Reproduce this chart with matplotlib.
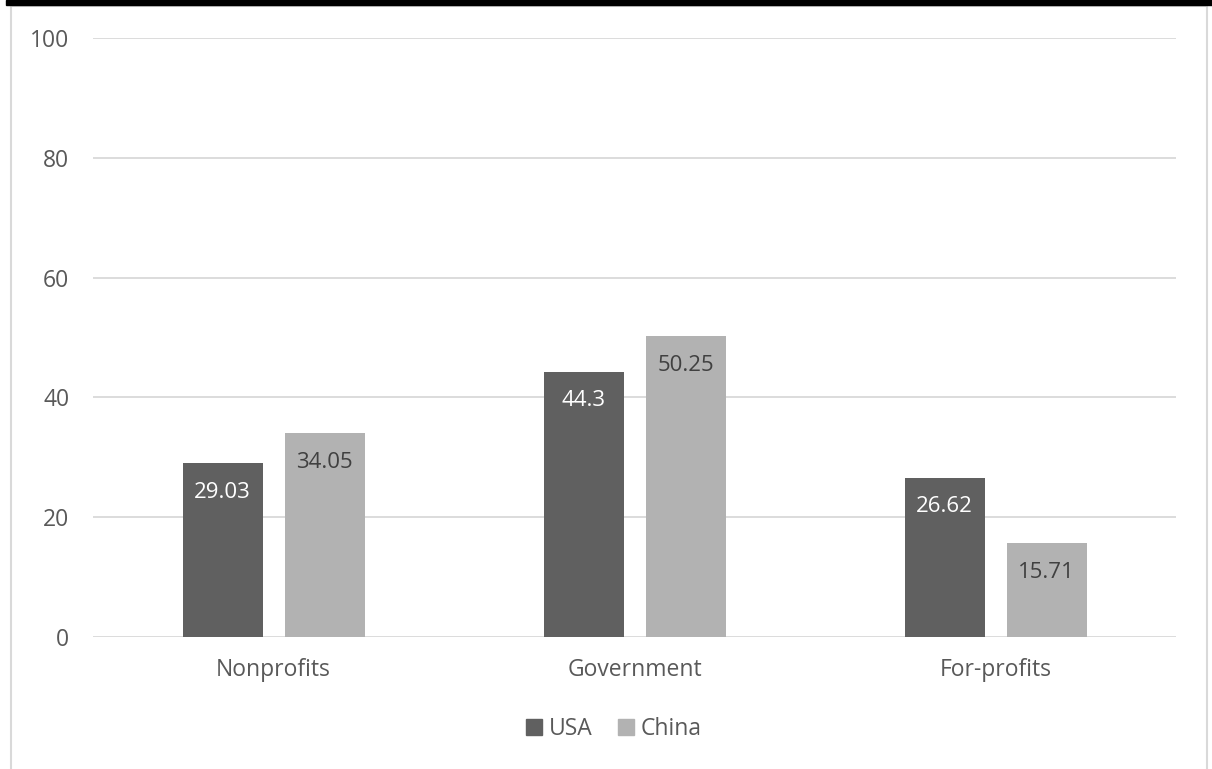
import matplotlib.pyplot as plt
from matplotlib.patches import Rectangle
from matplotlib.lines import Line2D
import numpy as np

categories = ['Nonprofits', 'Government', 'For-profits']
usa = [29.03, 44.3, 26.62]
china = [34.05, 50.25, 15.71]
usa_labels = ['29.03', '44.3', '26.62']
china_labels = ['34.05', '50.25', '15.71']
yticks = [0, 20, 40, 60, 80, 100]

plt.rcParams['font.family'] = ['Open Sans', 'DejaVu Sans']

W, H = 1212, 769
fig = plt.figure(figsize=(W / 100, H / 100), dpi=100)
ax = fig.add_axes([93 / W, 1 - 637 / H, (1176 - 93) / W, (637 - 38) / H])

x = np.arange(len(categories))
bw = 80 / 361
off = 51 / 361
dark = '#606060'
light = '#b2b2b2'
b1 = ax.bar(x - off, usa, bw, color=dark, zorder=3, label='USA')
b2 = ax.bar(x + off, china, bw, color=light, zorder=3, label='China')

for bar, lab in zip(b1, usa_labels):
    ax.annotate(lab, (bar.get_x() + bar.get_width() / 2, bar.get_height()),
                xytext=(0, -21), textcoords='offset points', ha='center', va='center',
                color='white', fontsize=16, zorder=4)
for bar, lab in zip(b2, china_labels):
    ax.annotate(lab, (bar.get_x() + bar.get_width() / 2, bar.get_height()),
                xytext=(0, -21), textcoords='offset points', ha='center', va='center',
                color='#404040', fontsize=16, zorder=4)

ax.set_xlim(-0.5, 2.5)
ax.set_ylim(0, 100)
ax.set_yticks(yticks)
ax.set_xticks(x)
ax.set_xticklabels(categories)
ax.grid(axis='y', color='#d9d9d9', linewidth=1.3, zorder=0)
for s in ax.spines.values():
    s.set_visible(False)
ax.tick_params(axis='both', length=0, labelsize=16.5, colors='#595959')
ax.tick_params(axis='y', pad=17)
ax.tick_params(axis='x', pad=15)

handles = [Line2D([], [], marker='s', linestyle='', markersize=11, color=dark),
           Line2D([], [], marker='s', linestyle='', markersize=11, color=light)]
leg = fig.legend(handles, ['USA', 'China'], loc='center', bbox_to_anchor=(614 / W, 1 - 729 / H),
                 ncol=2, frameon=False, fontsize=16.5, handlelength=0.7, handletextpad=0.3,
                 columnspacing=1.1)
for t in leg.get_texts():
    t.set_color('#595959')

# chart border and black top band
fig.patches.append(Rectangle((11 / W, -0.01), (1207 - 11) / W, 1 - 6 / H + 0.01,
                             transform=fig.transFigure, fill=False, edgecolor='#d9d9d9',
                             linewidth=1.5, zorder=0))
fig.patches.append(Rectangle((6 / W, 1 - 5 / H), 1, 5 / H, transform=fig.transFigure,
                             color='black', zorder=5))

fig.savefig('out.png', dpi=100)
